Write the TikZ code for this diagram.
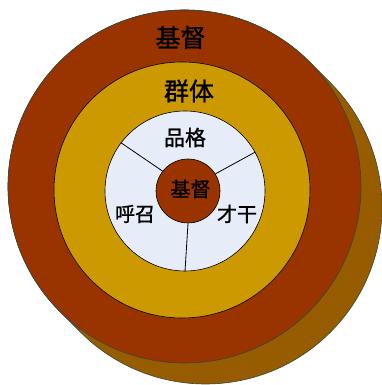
\documentclass[tikz,border=0pt]{standalone}
\usepackage{fontspec}
\newfontfamily\cjk{Noto Sans CJK SC}[FakeBold=1.2]
\usetikzlibrary{positioning,calc}
\definecolor{rust}{HTML}{993300}
\definecolor{amber}{HTML}{CC9900}
\definecolor{umber}{HTML}{975C00}
\definecolor{mist}{HTML}{E7EDF8}
\definecolor{edge}{HTML}{2F4A3C}

\begin{document}
\begin{tikzpicture}[x=1pt,y=1pt,
    ring/.style={circle, draw, inner sep=0pt, line width=0.6pt},
    word/.style={text=black, font=\cjk}]
    \useasboundingbox (0,0) rectangle (382,385);

    % %shadow
    \fill[umber, draw=edge, line width=0.6pt]
    ($(184.5,198.5)+(45:176.5)$) -- ($(205.5,177.5)+(45:176.5)$)
    arc[start angle=45, end angle=-135, radius=176.5]
    -- ($(184.5,198.5)+(225:176.5)$)
    arc[start angle=225, end angle=45, radius=176.5] -- cycle;

    % %rings
    \node[ring, draw=edge, fill=rust, minimum size=353pt] (church) at (184.5,198.5) {};
    \node[ring, fill=amber, minimum size=256pt] (group) at (182,195) {};
    \node[ring, fill=mist, minimum size=160pt] (life) at (185,194) {};
    \node[ring, fill=rust, minimum size=64pt] (core) at (188,194) {};

    % %spokes
    \draw[line width=0.8pt] (life.143) -- (core.142)
    (life.29) -- (core.32)
    (life.270) -- (core.270);

    % %labels
    \node[word, font=\cjk\fontsize{25}{25}\selectfont] (churchtxt) at (180.5,347.5) {基督};
    \node[word, font=\cjk\fontsize{25}{25}\selectfont] (grouptxt) at (189,294) {群体};
    \node[word, font=\cjk\fontsize{21}{21}\selectfont] (chartxt) at (185,247.5) {品格};
    \node[word, font=\cjk\fontsize{20}{20}\selectfont] (calltxt) at (135,171) {呼召};
    \node[word, font=\cjk\fontsize{20}{20}\selectfont] (gifttxt) at (237,171) {才干};
    \node[word, font=\cjk\fontsize{20}{20}\selectfont] (coretxt) at (190.5,196) {基督};

\end{tikzpicture}
\end{document}
